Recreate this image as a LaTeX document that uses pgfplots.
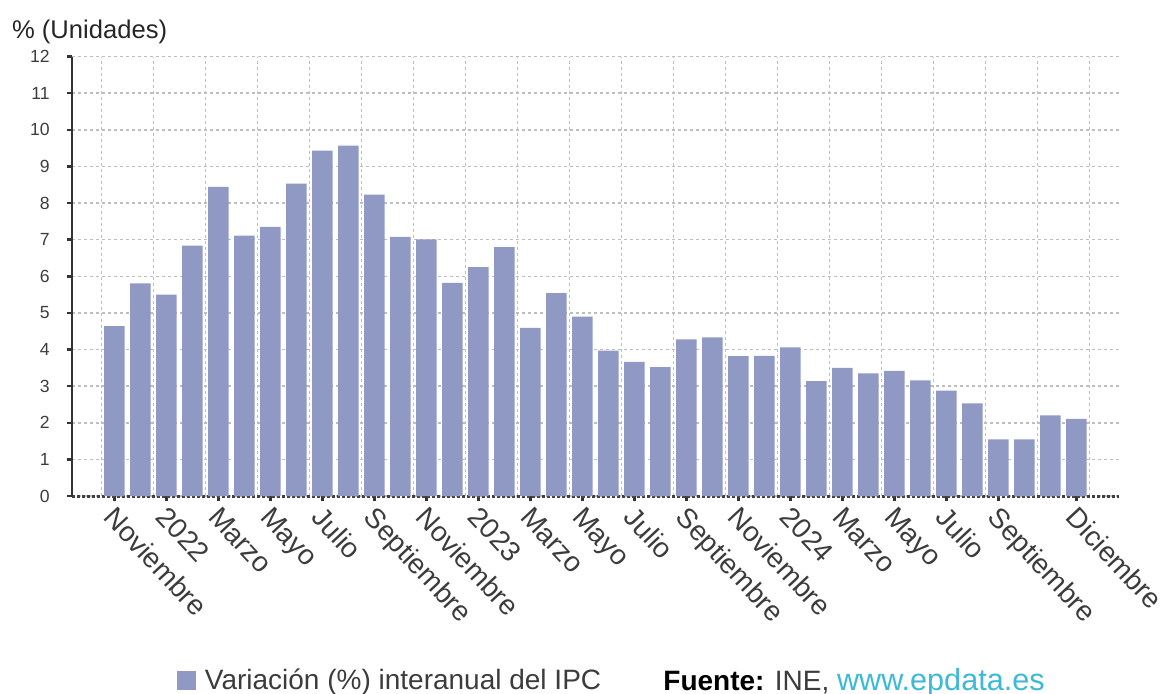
\documentclass[border=0pt]{standalone}
\usepackage{fontspec}
\setmainfont{Liberation Sans}
\usepackage{pgfplots}
\pgfplotsset{compat=1.18}
\definecolor{barc}{RGB}{143,153,196}
\definecolor{gridc}{RGB}{190,190,190}
\definecolor{txt}{RGB}{60,60,60}
\definecolor{link}{RGB}{60,185,215}

\begin{document}
\begin{tikzpicture}
\begin{axis}[
  at={(0pt,0pt)}, anchor=south west,
  scale only axis, width=523.5pt, height=219.7pt,
  xmin=-1.63, xmax=38.64, ymin=0, ymax=12,
  axis lines=left, axis line style={-},
  x axis line style={black!75, line width=1.5pt, dash pattern=on 1.5pt off 1pt},
  y axis line style={black!80, line width=1.4pt},
  ytick={0,1,...,12},
  xtick={0,2,4,6,8,10,12,14,16,18,20,22,24,26,28,30,32,34,37},
  xticklabels={Noviembre,2022,Marzo,Mayo,Julio,Septiembre,Noviembre,2023,Marzo,Mayo,Julio,Septiembre,Noviembre,2024,Marzo,Mayo,Julio,Septiembre,Diciembre},
  minor xtick={-0.5,1.5,...,37.5},
  ymajorgrids, xminorgrids,
  grid style={gridc, line width=0.75pt, dash pattern=on 1.5pt off 1.5pt},
  major tick length=2.7pt, minor tick length=0pt,
  tick align=outside,
  major tick style={black!80, line width=1.2pt},
  /pgf/number format/assume math mode=true,
  yticklabel style={font=\fontsize{8.8}{10}\selectfont, text=txt, anchor=east, inner sep=0pt, xshift=-8.3pt},
  xticklabel style={xshift=1.4pt, yshift=-1.55pt, font=\fontsize{14}{16}\selectfont, text=txt, rotate=-47, anchor=north west, inner sep=0pt},
  legend style={draw=none, fill=none, inner sep=0pt, outer sep=0pt, at={(0.1,-0.42)}, anchor=west, font=\fontsize{14}{16}\selectfont, text=txt, /tikz/every odd column/.append style={column sep=2.6pt}},
  legend image code/.code={\fill[barc] (0pt,-4.75pt) rectangle (9.5pt,4.75pt);},
]
\addplot[ybar, bar width=0.78, fill=barc, draw=none] coordinates {
(0,4.64) (1,5.81) (2,5.50) (3,6.84) (4,8.44) (5,7.11) (6,7.35) (7,8.53)
(8,9.43) (9,9.57) (10,8.23) (11,7.08) (12,7.01) (13,5.82) (14,6.25) (15,6.80)
(16,4.59) (17,5.54) (18,4.90) (19,3.97) (20,3.66) (21,3.52) (22,4.28) (23,4.33)
(24,3.82) (25,3.83) (26,4.06) (27,3.14) (28,3.50) (29,3.35) (30,3.42) (31,3.16)
(32,2.88) (33,2.53) (34,1.55) (35,1.55) (36,2.20) (37,2.11)
};
\addlegendentry{Variación (\%) interanual del IPC}
\end{axis}
\node[anchor=base west, inner sep=0pt, font=\fontsize{12.8}{15}\selectfont, text=black!85] at (-30.15pt,228.85pt) {\% (Unidades)};
\node[anchor=base west, inner sep=0pt, font=\fontsize{14}{16}\selectfont, text=txt] at (295.5pt,-97pt) {\textbf{\textcolor{black}{Fuente:}} INE, {\fontsize{15.3}{16}\selectfont\textcolor{link}{www.epdata.es}}};
\pgfresetboundingbox
\path[use as bounding box] (-36pt,-98.5pt) rectangle (544.5pt,248pt);
\end{tikzpicture}
\end{document}
